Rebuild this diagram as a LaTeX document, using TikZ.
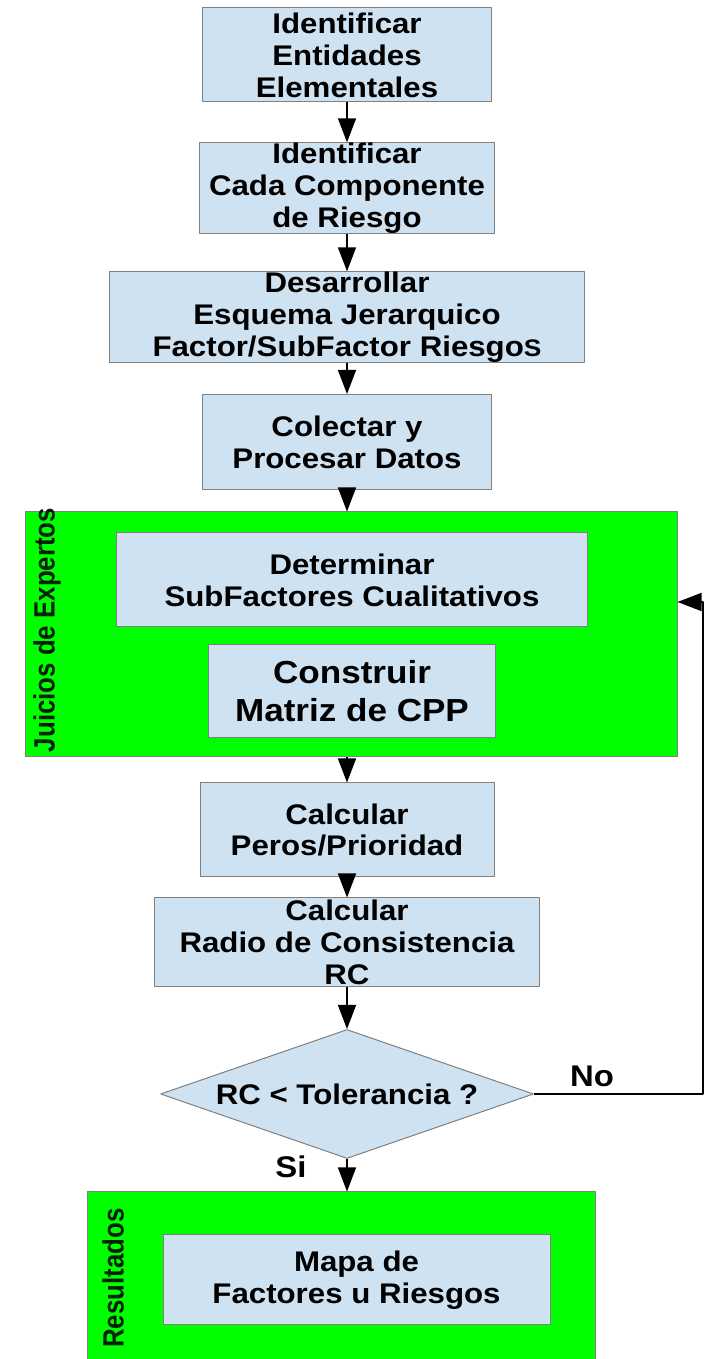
\documentclass[tikz,border=0pt]{standalone}
\usepackage{fontspec}
\setmainfont{Liberation Sans}[FakeStretch=1.1]
\newfontfamily\lblfont{Liberation Sans}[FakeStretch=0.88]
\usetikzlibrary{arrows.meta,shapes.geometric}
\definecolor{boxfill}{RGB}{207,226,242}
\definecolor{boxline}{RGB}{128,128,128}
\definecolor{grupofill}{RGB}{0,255,0}
\definecolor{lblcol}{rgb}{0.02,0.12,0.02}
\tikzset{
  paso/.style={draw=boxline,fill=boxfill,line width=1bp,inner sep=0pt,align=center,
    font=\fontsize{28.5}{32}\selectfont\bfseries},
  grupo/.style={draw=boxline,fill=grupofill,line width=1bp,inner sep=0pt},
  decision/.style={diamond,draw=boxline,fill=boxfill,line width=1bp,inner sep=0pt,aspect=2.9,
    font=\fontsize{28.5}{32}\selectfont\bfseries},
  grupolbl/.style={rotate=90,text=lblcol,inner sep=0pt,font=\bfseries\lblfont\fontsize{29.5}{32}\selectfont},
  rama/.style={inner sep=0pt,font=\fontsize{30}{32}\selectfont\bfseries},
}
\begin{document}
\begin{tikzpicture}[>={Triangle[length=24bp,width=18bp]},line join=bevel,]
  \pgfsetlinewidth{1.5bp}
  \useasboundingbox (0bp,0bp) rectangle (705bp,1359bp);
%%
  % Node: grupos
  \node [grupo,minimum width=652bp,minimum height=245bp] (g1) at (351bp,724.5bp) {};
  \node [grupo,minimum width=508bp,minimum height=190bp] (g2) at (341bp,72bp) {};
  \node [grupolbl] (lg1) at (47bp,729bp) {Juicios de Expertos};
  \node [grupolbl] (lg2) at (113bp,81bp) {Resultados};
  % Node: pasos
  \node [paso,minimum width=289bp,minimum height=94bp] (b1) at (347bp,1304bp) {Identificar\\Entidades\\Elementales};
  \node [paso,minimum width=295bp,minimum height=90bp] (b2) at (347bp,1171bp) {Identificar\\Cada Componente\\de Riesgo};
  \node [paso,minimum width=475bp,minimum height=90bp] (b3) at (347bp,1042bp) {Desarrollar\\Esquema Jerarquico\\Factor/SubFactor Riesgo{\fontsize{24}{32}\selectfont S}};
  \node [paso,minimum width=289bp,minimum height=95bp] (b4) at (347bp,917bp) {Colectar y\\Procesar Datos};
  \node [paso,minimum width=471bp,minimum height=94bp] (b5) at (352bp,779bp) {Determinar\\SubFactores Cualitativos};
  \node [paso,minimum width=287bp,minimum height=93bp,font=\fontsize{32}{38}\selectfont\bfseries] (b6) at (352bp,668bp) {Construir\\Matriz de CPP};
  \node [paso,minimum width=294bp,minimum height=94bp] (b7) at (347bp,529bp) {Calcular\\Peros/Prioridad};
  \node [paso,minimum width=385bp,minimum height=89bp] (b8) at (347bp,416.5bp) {Calcular\\Radio de Consistencia\\RC};
  \node [decision,minimum width=373bp,minimum height=129bp] (d) at (347bp,265bp) {RC < Tolerancia ?};
  \node [paso,minimum width=387bp,minimum height=90bp] (b9) at (356.5bp,79bp) {Mapa de\\Factores u Riesgos};
  \coordinate (ret) at (703bp,757bp);
  % Edge: pasos
  \draw [->] (b1) -- (b2);
  \draw [->] (b2) -- (b3);
  \draw [->] (b3) -- (b4);
  \draw [->] (b4) -- (b4 |- g1.north);
  \draw [->] (g1.south -| b7) -- (b7);
  \draw [->] (b7) -- (b8);
  \draw [->] (b8) -- (d);
  % Edge: d -> g2 (Si)
  \draw [->] (d) -- (d |- g2.north);
  \node [rama] (si) at (291bp,192bp) {Si};
  % Edge: d -> g1 (No)
  \draw [->] (d.east) -| (ret) -- (ret -| g1.east);
  \node [rama] (no) at (592bp,283bp) {No};
%
\end{tikzpicture}
\end{document}
